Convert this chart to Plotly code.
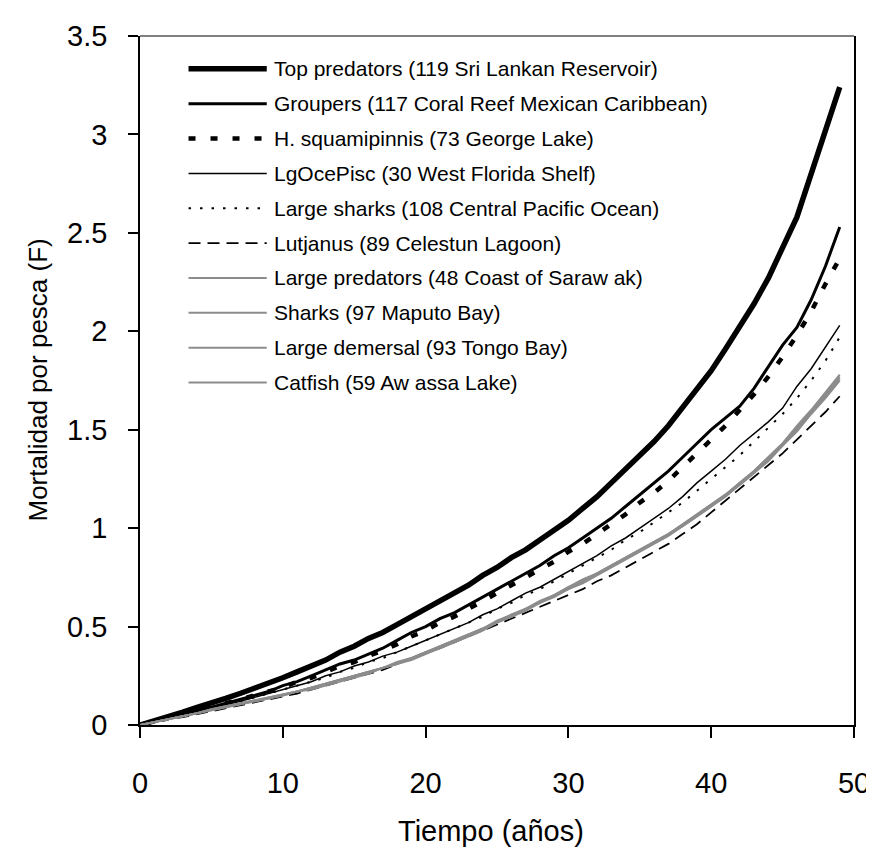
import plotly.graph_objects as go

years = list(range(50))

top_predators = [0.00, 0.02, 0.04, 0.065, 0.09, 0.11, 0.135, 0.16, 0.185, 0.21,
                 0.24, 0.27, 0.30, 0.33, 0.37, 0.40, 0.44, 0.47, 0.51, 0.55,
                 0.59, 0.63, 0.67, 0.71, 0.76, 0.80, 0.85, 0.89, 0.94, 0.99,
                 1.04, 1.10, 1.16, 1.23, 1.30, 1.37, 1.44, 1.52, 1.61, 1.70,
                 1.80, 1.91, 2.02, 2.14, 2.27, 2.42, 2.58, 2.80, 3.02, 3.24]
groupers = [0.00, 0.02, 0.04, 0.055, 0.075, 0.09, 0.11, 0.13, 0.15, 0.17,
            0.20, 0.22, 0.25, 0.28, 0.31, 0.33, 0.36, 0.39, 0.43, 0.47,
            0.50, 0.54, 0.57, 0.61, 0.65, 0.69, 0.73, 0.77, 0.81, 0.86,
            0.90, 0.95, 1.00, 1.05, 1.11, 1.17, 1.23, 1.29, 1.36, 1.43,
            1.50, 1.56, 1.62, 1.71, 1.82, 1.93, 2.02, 2.16, 2.33, 2.53]
h_squamipinnis = [0.00, 0.02, 0.035, 0.05, 0.07, 0.09, 0.11, 0.13, 0.15, 0.17,
                  0.19, 0.22, 0.24, 0.27, 0.30, 0.32, 0.35, 0.38, 0.41, 0.45,
                  0.48, 0.52, 0.55, 0.59, 0.63, 0.67, 0.71, 0.75, 0.79, 0.83,
                  0.88, 0.92, 0.97, 1.02, 1.07, 1.13, 1.18, 1.24, 1.31, 1.38,
                  1.45, 1.52, 1.60, 1.68, 1.77, 1.87, 1.98, 2.10, 2.24, 2.37]
lg_oce_pisc = [0.00, 0.015, 0.03, 0.05, 0.065, 0.08, 0.10, 0.12, 0.14, 0.16,
               0.18, 0.20, 0.22, 0.25, 0.27, 0.30, 0.32, 0.35, 0.37, 0.40,
               0.43, 0.46, 0.49, 0.52, 0.56, 0.59, 0.63, 0.67, 0.70, 0.74,
               0.78, 0.82, 0.86, 0.91, 0.95, 1.00, 1.05, 1.10, 1.16, 1.23,
               1.29, 1.35, 1.42, 1.48, 1.54, 1.61, 1.72, 1.81, 1.92, 2.03]
large_sharks = [0.00, 0.015, 0.03, 0.05, 0.065, 0.08, 0.10, 0.12, 0.14, 0.16,
                0.18, 0.20, 0.22, 0.24, 0.27, 0.29, 0.32, 0.34, 0.37, 0.40,
                0.43, 0.46, 0.49, 0.52, 0.55, 0.59, 0.62, 0.66, 0.69, 0.73,
                0.77, 0.81, 0.85, 0.89, 0.94, 0.98, 1.03, 1.08, 1.13, 1.19,
                1.25, 1.31, 1.37, 1.44, 1.51, 1.58, 1.66, 1.75, 1.85, 1.97]
lutjanus = [0.00, 0.015, 0.03, 0.04, 0.055, 0.07, 0.085, 0.10, 0.115, 0.13,
            0.145, 0.16, 0.18, 0.20, 0.22, 0.24, 0.26, 0.28, 0.31, 0.34,
            0.365, 0.39, 0.42, 0.45, 0.48, 0.51, 0.54, 0.57, 0.60, 0.63,
            0.66, 0.69, 0.73, 0.76, 0.80, 0.84, 0.88, 0.92, 0.97, 1.02,
            1.08, 1.14, 1.20, 1.26, 1.32, 1.38, 1.45, 1.52, 1.59, 1.67]
large_predators = [0.00, 0.015, 0.03, 0.045, 0.06, 0.08, 0.095, 0.11, 0.125, 0.14,
                   0.155, 0.17, 0.19, 0.21, 0.23, 0.25, 0.27, 0.29, 0.31, 0.34,
                   0.37, 0.40, 0.43, 0.46, 0.49, 0.53, 0.56, 0.59, 0.63, 0.66,
                   0.70, 0.74, 0.77, 0.81, 0.85, 0.89, 0.93, 0.97, 1.02, 1.07,
                   1.12, 1.17, 1.23, 1.29, 1.36, 1.43, 1.52, 1.60, 1.69, 1.78]
sharks = [0.00, 0.015, 0.03, 0.045, 0.06, 0.075, 0.09, 0.105, 0.12, 0.135,
          0.15, 0.17, 0.19, 0.21, 0.23, 0.25, 0.27, 0.29, 0.31, 0.34,
          0.37, 0.39, 0.42, 0.45, 0.49, 0.52, 0.55, 0.59, 0.62, 0.66,
          0.69, 0.73, 0.77, 0.81, 0.85, 0.89, 0.93, 0.97, 1.01, 1.06,
          1.11, 1.17, 1.22, 1.28, 1.35, 1.42, 1.50, 1.59, 1.67, 1.76]
large_demersal = [0.00, 0.015, 0.03, 0.045, 0.06, 0.075, 0.09, 0.105, 0.12, 0.135,
                  0.15, 0.17, 0.18, 0.20, 0.22, 0.24, 0.26, 0.29, 0.31, 0.33,
                  0.36, 0.39, 0.42, 0.45, 0.48, 0.52, 0.55, 0.58, 0.62, 0.65,
                  0.69, 0.72, 0.76, 0.80, 0.84, 0.88, 0.92, 0.96, 1.01, 1.06,
                  1.11, 1.16, 1.22, 1.28, 1.34, 1.42, 1.49, 1.58, 1.66, 1.75]
catfish = [0.00, 0.015, 0.03, 0.045, 0.06, 0.08, 0.095, 0.11, 0.125, 0.14,
           0.155, 0.17, 0.19, 0.21, 0.23, 0.25, 0.27, 0.29, 0.32, 0.34,
           0.37, 0.40, 0.43, 0.46, 0.49, 0.52, 0.56, 0.59, 0.62, 0.66,
           0.70, 0.73, 0.77, 0.81, 0.85, 0.89, 0.93, 0.97, 1.02, 1.07,
           1.12, 1.17, 1.23, 1.29, 1.36, 1.43, 1.51, 1.59, 1.68, 1.77]

series_names = [
    "Top predators (119 Sri Lankan Reservoir)",
    "Groupers (117 Coral Reef Mexican Caribbean)",
    "H. squamipinnis (73 George Lake)",
    "LgOcePisc (30 West Florida Shelf)",
    "Large sharks (108 Central Pacific Ocean)",
    "Lutjanus (89 Celestun Lagoon)",
    "Large predators (48 Coast of Saraw ak)",
    "Sharks (97 Maputo Bay)",
    "Large demersal (93 Tongo Bay)",
    "Catfish (59 Aw assa Lake)",
]
series_values = [top_predators, groupers, h_squamipinnis, lg_oce_pisc, large_sharks,
                 lutjanus, large_predators, sharks, large_demersal, catfish]

x_ticks = [0, 10, 20, 30, 40, 50]
y_ticks = [0, 0.5, 1, 1.5, 2, 2.5, 3, 3.5]
y_tick_labels = ["0", "0.5", "1", "1.5", "2", "2.5", "3", "3.5"]

GRAY = "#8c8c8c"
styles = [
    dict(color="black", width=5.5, dash="solid"),
    dict(color="black", width=3, dash="solid"),
    dict(color="black", width=4.5, dash="7px,15px"),
    dict(color="black", width=1.5, dash="solid"),
    dict(color="black", width=2, dash="2.5px,9px"),
    dict(color="black", width=1.8, dash="12px,7px"),
    dict(color=GRAY, width=2, dash="solid"),
    dict(color=GRAY, width=2, dash="solid"),
    dict(color=GRAY, width=2, dash="solid"),
    dict(color=GRAY, width=2, dash="solid"),
]

FONT = "Liberation Sans, Arial, sans-serif"

fig = go.Figure()
for name, vals, st in zip(series_names, series_values, styles):
    fig.add_trace(go.Scatter(x=years, y=vals, mode="lines", name=name,
                             line=st, showlegend=False))

W, H = 874, 851
ml, mr, mt, mb = 132, 21, 25, 134
pw, ph = W - ml - mr, H - mt - mb

def px_to_paper_x(px):
    return (px - ml) / pw

def px_to_paper_y(py):
    return (H - mb - py) / ph

shapes = []
annotations = []
row0, row_step = 58, 35
for i, (name, st) in enumerate(zip(series_names, styles)):
    yy = px_to_paper_y(row0 + i * row_step)
    shapes.append(dict(type="line", xref="paper", yref="paper",
                       x0=px_to_paper_x(181), x1=px_to_paper_x(260), y0=yy, y1=yy,
                       line=dict(color=st["color"], width=st["width"], dash=st["dash"])))
    annotations.append(dict(xref="paper", yref="paper", x=px_to_paper_x(265), y=yy,
                            text=name, showarrow=False, xanchor="left", yanchor="middle",
                            font=dict(family=FONT, size=21, color="black")))

# axis titles
annotations.append(dict(xref="paper", yref="paper", x=px_to_paper_x(486), y=0,
                        yshift=-106, text="Tiempo (años)", showarrow=False,
                        xanchor="center", yanchor="middle",
                        font=dict(family=FONT, size=29, color="black")))
annotations.append(dict(xref="paper", yref="paper", x=0, y=0.5, xshift=-103,
                        text="Mortalidad por pesca (F)", showarrow=False, textangle=-90,
                        xanchor="center", yanchor="middle",
                        font=dict(family=FONT, size=26, color="black")))

# top border (gray)
shapes.append(dict(type="line", xref="paper", yref="paper", x0=0, x1=1, y0=1, y1=1,
                   line=dict(color="#808080", width=2)))

fig.update_layout(
    width=W, height=H, autosize=False,
    margin=dict(l=ml, r=mr, t=mt, b=mb),
    paper_bgcolor="white", plot_bgcolor="white",
    font=dict(family=FONT, color="black"),
    shapes=shapes, annotations=annotations,
    xaxis=dict(range=[0, 50], tickvals=x_ticks,
               showgrid=False, zeroline=False, showline=True, linecolor="black",
               linewidth=1.5, ticks="outside", ticklen=11, tickwidth=1.5,
               tickcolor="black", tickfont=dict(size=29, family=FONT),
               ticklabelstandoff=20),
    yaxis=dict(range=[0, 3.5], tickvals=y_ticks, ticktext=y_tick_labels,
               showgrid=False, zeroline=False, showline=True, linecolor="black",
               linewidth=1.5, mirror=True, ticks="outside", ticklen=10, tickwidth=1.5,
               tickcolor="black", tickfont=dict(size=29, family=FONT),
               ticklabelstandoff=15),
)

fig.write_html("out.html")
